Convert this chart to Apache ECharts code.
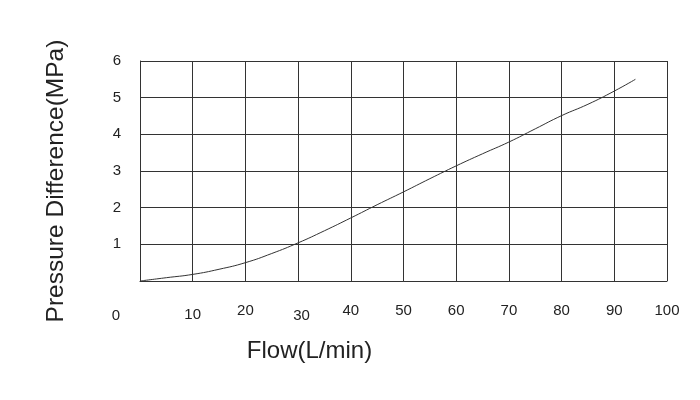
<!DOCTYPE html>
<html><head><meta charset="utf-8">
<script src="https://cdn.jsdelivr.net/npm/echarts@6/dist/echarts.min.js"></script>
<style>html,body{margin:0;padding:0;background:#fff}#c{width:700px;height:400px}</style>
</head><body><div id="c"></div>
<script>
var flow = [0, 5, 10, 15, 20, 25, 30, 35, 40, 45, 50, 55, 60, 65, 70, 75, 80, 85, 90, 94];
var pressure = [0, 0.09, 0.18, 0.32, 0.50, 0.75, 1.04, 1.37, 1.72, 2.08, 2.43, 2.79, 3.14, 3.47, 3.79, 4.15, 4.51, 4.82, 5.18, 5.50];
var xTicks = ['0','10','20','30','40','50','60','70','80','90','100'];
var yTicks = ['','1','2','3','4','5','6'];
var xName = 'Flow(L/min)';
var yName = 'Pressure Difference(MPa)';

var FONT = 'Liberation Sans, Arial, sans-serif';
var FS = 15;
var chart = echarts.init(document.getElementById('c'), null, {renderer: 'canvas'});
chart.setOption({
  animation: false,
  backgroundColor: '#fff',
  grid: {left: 140, right: 33, top: 61, bottom: 119, containLabel: false},
  xAxis: {
    type: 'value', min: 0, max: 100, interval: 10,
    name: xName, nameLocation: 'middle', nameGap: 58,
    nameTextStyle: {fontFamily: FONT, fontSize: 24, color: '#222', padding: [0, 188, 0, 0]},
    axisLine: {show: true, lineStyle: {color: '#333', width: 1}},
    axisTick: {show: false},
    splitLine: {show: true, lineStyle: {color: '#333', width: 1}},
    axisLabel: {
      margin: 22, color: '#222', fontFamily: FONT, fontSize: FS,
      showMinLabel: true, showMaxLabel: true,
      formatter: function (v) {
        var s = xTicks[Math.round(v / 10)];
        if (v === 0) return '{z|' + s + '}';
        if (v === 10) return '{d|' + s + '}';
        if (v === 30) return '{t|' + s + '}';
        return '{n|' + s + '}';
      },
      rich: {
        z: {fontFamily: FONT, fontSize: FS, color: '#222', padding: [5, 48, 0, 0]},
        d: {fontFamily: FONT, fontSize: FS, color: '#222', padding: [4, 0, 0, 0]},
        t: {fontFamily: FONT, fontSize: FS, color: '#222', padding: [5, 0, 0, 7]},
        n: {fontFamily: FONT, fontSize: FS, color: '#222'}
      }
    }
  },
  yAxis: {
    type: 'value', min: 0, max: 6, interval: 1,
    name: yName, nameLocation: 'middle', nameGap: 71,
    nameTextStyle: {fontFamily: FONT, fontSize: 24.5, color: '#222', padding: [0, 20, 0, 0]},
    axisLine: {show: true, lineStyle: {color: '#333', width: 1}},
    axisTick: {show: false},
    splitLine: {show: true, lineStyle: {color: '#333', width: 1}},
    axisLabel: {
      margin: 19, color: '#222', fontFamily: FONT, fontSize: FS,
      formatter: function (v) { return yTicks[Math.round(v)]; }
    }
  },
  series: [{
    type: 'line', smooth: true, symbol: 'none',
    data: flow.map(function (f, i) { return [f, pressure[i]]; }),
    lineStyle: {color: '#333', width: 1}
  }]
});
</script></body></html>
